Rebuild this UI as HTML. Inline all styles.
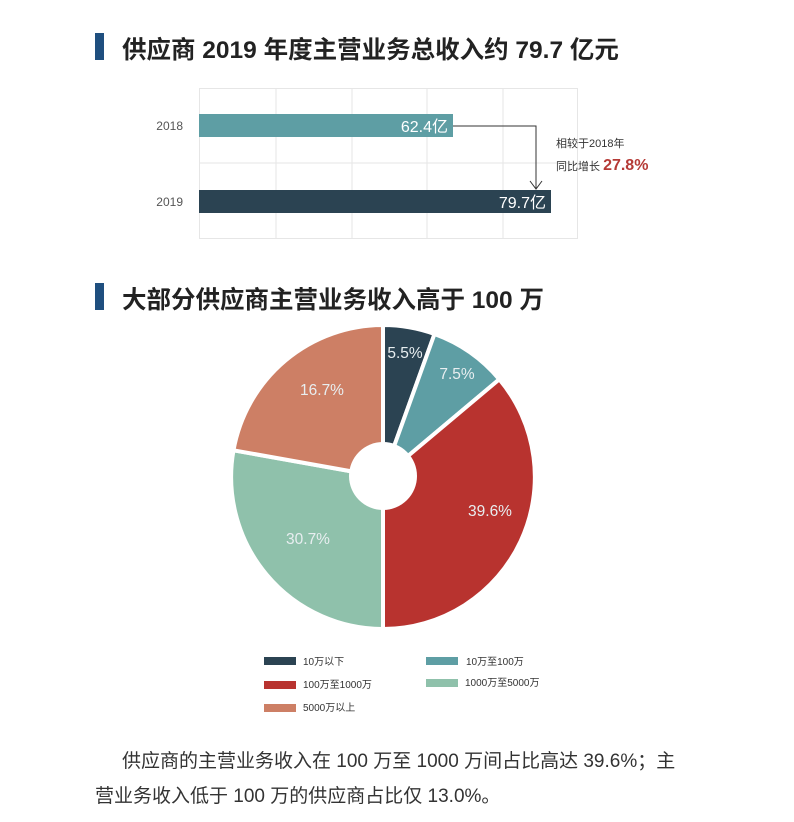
<!DOCTYPE html>
<html><head><meta charset="utf-8"><style>
body{margin:0;background:#fff;width:794px;height:822px;position:relative;font-family:"Liberation Sans","Noto Sans CJK SC",sans-serif;overflow:hidden}
.h{position:absolute;left:95px;font-weight:bold;font-size:24.5px;color:#222}
.h:before{content:"";position:absolute;left:0;top:0;width:9px;height:27px;background:#1f4f7f}
.h span{position:absolute;left:27px;top:-2px;white-space:nowrap}
.p{position:absolute;font-size:19px;color:#333;white-space:nowrap}
</style></head><body>
<div class="h" style="top:33px"><span>供应商 2019 年度主营业务总收入约 79.7 亿元</span></div>
<div class="h" style="top:283px"><span>大部分供应商主营业务收入高于 100 万</span></div>
<svg width="794" height="822" style="position:absolute;left:0;top:0" font-family="Liberation Sans, Noto Sans CJK SC, sans-serif">
<g stroke="#e6e6e6" stroke-width="1" fill="none">
<rect x="199.5" y="88.5" width="378" height="150"/>
<line x1="276" y1="88" x2="276" y2="238"/><line x1="352" y1="88" x2="352" y2="238"/>
<line x1="427" y1="88" x2="427" y2="238"/><line x1="503" y1="88" x2="503" y2="238"/>
<line x1="199" y1="163" x2="577" y2="163"/>
</g>
<text x="183" y="130" font-size="12" fill="#555" text-anchor="end">2018</text>
<text x="183" y="206" font-size="12" fill="#555" text-anchor="end">2019</text>
<rect x="199" y="114" width="254" height="23" fill="#5e9ea4"/>
<rect x="199" y="190" width="352" height="23" fill="#2b4352"/>
<text x="448" y="132" font-size="16" fill="#fff" text-anchor="end">62.4亿</text>
<text x="546" y="208" font-size="16" fill="#fff" text-anchor="end">79.7亿</text>
<polyline points="453,126 536,126 536,189" fill="none" stroke="#333" stroke-width="1"/>
<polyline points="530,181 536,189 542,181" fill="none" stroke="#333" stroke-width="1"/>
<text x="556" y="147" font-size="11" fill="#333">相较于2018年</text>
<text x="556" y="170" font-size="11" fill="#333">同比增长 <tspan font-size="16" font-weight="bold" fill="#b53a36">27.8%</tspan></text>
<g stroke="#fff" stroke-width="4">
<path d="M383,477 L383,325 A152,152 0 0 1 434.5,334 Z" fill="#2b4352"/>
<path d="M383,477 L434.5,334 A152,152 0 0 1 499.3,379.3 Z" fill="#5e9ea4"/>
<path d="M383,477 L499.3,379.3 A152,152 0 0 1 383,629 Z" fill="#b8332f"/>
<path d="M383,477 L383,629 A152,152 0 0 1 233.5,450.3 Z" fill="#8fc1ab"/>
<path d="M383,477 L233.5,450.3 A152,152 0 0 1 383,325 Z" fill="#cd7f65"/>
</g>
<circle cx="383" cy="476" r="34" fill="#fff"/>
<g font-size="15.5" fill="#e8eef0" text-anchor="middle">
<text x="405" y="358">5.5%</text><text x="457" y="379">7.5%</text>
<text x="490" y="516">39.6%</text><text x="308" y="544">30.7%</text>
<text x="322" y="395">16.7%</text>
</g>
<rect x="264" y="657" width="32" height="8" fill="#2b4352"/>
<rect x="426" y="657" width="32" height="8" fill="#5e9ea4"/>
<rect x="264" y="681" width="32" height="8" fill="#b8332f"/>
<rect x="426" y="679" width="32" height="8" fill="#8fc1ab"/>
<rect x="264" y="704" width="32" height="8" fill="#cd7f65"/>
<g font-size="10" fill="#333">
<text x="303" y="665">10万以下</text><text x="466" y="665">10万至100万</text>
<text x="303" y="688">100万至1000万</text><text x="465" y="686">1000万至5000万</text>
<text x="303" y="711">5000万以上</text>
</g>
</svg>
<div class="p" style="left:122px;top:746px">供应商的主营业务收入在 100 万至 1000 万间占比高达 39.6%；主</div>
<div class="p" style="left:95px;top:781px">营业务收入低于 100 万的供应商占比仅 13.0%。</div>
</body></html>
